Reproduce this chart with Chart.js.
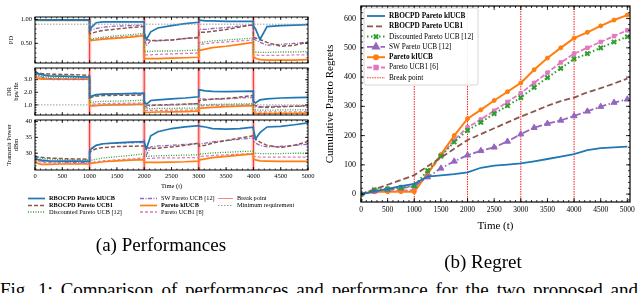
<!DOCTYPE html>
<html>
<head>
<meta charset="utf-8">
<script src="https://cdn.jsdelivr.net/npm/chart.js@4.4.1/dist/chart.umd.min.js"></script>
<style>
  body { margin: 0; background: #fff; width: 640px; height: 293px; overflow: hidden; position: relative; font-family: "Liberation Serif", serif; }
  canvas { position: absolute; }
  .cap { position: absolute; font-size: 19px; line-height: 19px; white-space: nowrap; color: #000; text-align: center; }
  .fig { position: absolute; left: 0; top: 280px; width: 638px; font-size: 19px; line-height: 19px; white-space: nowrap; text-align: justify; text-align-last: justify; color: #000; }
</style>
</head>
<body>
<canvas id="pd" width="320" height="50" style="left:0;top:15px"></canvas>
<canvas id="dr" width="320" height="51" style="left:0;top:66px"></canvas>
<canvas id="tp" width="320" height="75" style="left:0;top:118px"></canvas>
<canvas id="leg" width="320" height="26" style="left:0;top:192px"></canvas>
<canvas id="regret" width="320" height="235" style="left:320px;top:0"></canvas>
<div class="cap" style="left:0;width:322px;top:235px">(a) Performances</div>
<div class="cap" style="left:320px;width:326px;top:252px">(b) Regret</div>
<div class="fig">Fig. 1: Comparison of performances and performance for the two proposed and</div>

<script>
const SERIF = "'Liberation Serif', serif";
Chart.defaults.font.family = SERIF;
Chart.defaults.color = "#000";

// ---- data: left panels (a) ----
const breakPoints = [1000, 2000, 3000, 4000];
const timeSteps = [0, 40, 120, 250, 500, 750, 999,
  1000, 1040, 1120, 1250, 1500, 1750, 1999,
  2000, 2040, 2120, 2250, 2500, 2750, 2999,
  3000, 3040, 3120, 3250, 3500, 3750, 3999,
  4000, 4040, 4120, 4250, 4500, 4750, 4999];
const timeTicks = [0, 500, 1000, 1500, 2000, 2500, 3000, 3500, 4000, 4500, 5000];

const seriesNames = ["RBOCPD Pareto klUCB", "RBOCPD Pareto UCB1", "Discounted Pareto UCB [12]",
  "SW Pareto UCB [12]", "Pareto klUCB", "Pareto UCB1 [6]"];

// PD
const pdBlue   = [0.99,0.99,0.99,0.99,0.99,0.99,0.99, 0.78,0.84,0.93,0.95,0.95,0.95,0.95, 0.72,0.58,0.74,0.82,0.87,0.91,0.94, 0.98,0.98,0.97,0.97,0.96,0.96,0.96, 0.86,0.80,0.58,0.85,0.87,0.88,0.89];
const pdBrown  = [0.99,0.99,0.99,0.99,0.99,0.99,0.99, 0.70,0.71,0.74,0.77,0.80,0.83,0.85, 0.60,0.58,0.56,0.56,0.57,0.60,0.62, 0.73,0.73,0.73,0.75,0.79,0.84,0.89, 0.62,0.61,0.58,0.52,0.44,0.46,0.53];
const pdGreen  = [0.985,0.985,0.985,0.985,0.985,0.985,0.985, 0.58,0.59,0.61,0.63,0.66,0.68,0.71, 0.33,0.33,0.33,0.34,0.34,0.35,0.36, 0.52,0.52,0.53,0.55,0.57,0.59,0.61, 0.32,0.32,0.31,0.31,0.32,0.32,0.33];
const pdPurple = [0.985,0.985,0.985,0.985,0.985,0.985,0.985, 0.76,0.78,0.81,0.84,0.86,0.87,0.88, 0.62,0.45,0.56,0.55,0.57,0.60,0.63, 0.79,0.79,0.79,0.81,0.83,0.86,0.88, 0.60,0.57,0.52,0.46,0.48,0.50,0.52];
const pdOrange = [0.98,0.98,0.98,0.98,0.98,0.98,0.98, 0.56,0.56,0.57,0.59,0.61,0.63,0.66, 0.19,0.18,0.18,0.18,0.19,0.20,0.21, 0.35,0.36,0.38,0.41,0.44,0.48,0.52, 0.22,0.19,0.16,0.15,0.15,0.15,0.16];
const pdPink   = [0.98,0.98,0.98,0.98,0.98,0.98,0.98, 0.57,0.57,0.59,0.61,0.63,0.65,0.68, 0.26,0.26,0.26,0.27,0.28,0.29,0.30, 0.48,0.48,0.49,0.51,0.53,0.55,0.57, 0.26,0.26,0.25,0.25,0.25,0.26,0.26];

// DR (bps/Hz)
const drBlue   = [3.65,3.50,3.40,3.30,3.28,3.25,3.20, 1.60,1.70,1.82,1.86,1.88,1.90,1.92, 1.30,1.05,1.35,1.40,1.48,1.55,1.65, 2.20,2.18,2.12,2.08,2.05,2.07,2.10, 1.30,1.15,1.40,1.48,1.55,1.58,1.60];
const drBrown  = [3.70,3.55,3.50,3.45,3.42,3.40,3.35, 1.55,1.62,1.70,1.74,1.76,1.77,1.78, 1.05,1.00,0.98,1.00,1.03,1.06,1.10, 1.35,1.38,1.40,1.45,1.52,1.62,1.75, 1.00,0.95,0.85,0.80,0.85,0.90,0.95];
const drGreen  = [3.65,3.40,3.25,3.20,3.18,3.18,3.20, 1.20,1.22,1.25,1.28,1.30,1.33,1.38, 0.70,0.68,0.70,0.72,0.73,0.74,0.76, 1.00,1.00,1.02,1.04,1.06,1.08,1.10, 0.60,0.60,0.58,0.58,0.60,0.60,0.62];
const drPurple = [3.65,3.40,3.20,3.10,3.05,3.05,3.05, 1.55,1.70,1.80,1.85,1.88,1.92,1.95, 1.00,0.80,0.95,0.98,1.00,1.05,1.10, 1.50,1.50,1.45,1.45,1.48,1.55,1.60, 0.95,0.85,0.80,0.88,0.90,0.88,0.90];
const drOrange = [3.60,3.10,3.05,3.05,3.05,3.05,3.05, 0.92,0.93,0.95,0.98,1.00,1.03,1.06, 0.40,0.40,0.42,0.44,0.45,0.47,0.50, 0.73,0.74,0.77,0.81,0.86,0.90,0.95, 0.35,0.33,0.32,0.32,0.33,0.34,0.35];
const drPink   = [3.60,3.30,3.10,3.02,3.00,3.00,3.00, 1.05,1.06,1.08,1.10,1.12,1.14,1.16, 0.55,0.55,0.56,0.57,0.58,0.59,0.60, 0.92,0.92,0.94,0.96,0.98,1.00,1.02, 0.45,0.45,0.44,0.44,0.45,0.45,0.46];

// Transmit power (dBm)
const tpBlue   = [29.0,28.0,27.8,27.6,27.5,27.5,27.4, 30.8,31.5,32.5,33.0,33.3,33.5,33.7, 33.5,31.4,35.5,36.8,37.8,38.3,38.7, 38.6,38.5,38.3,37.8,37.6,37.8,38.2, 37.6,34.5,36.5,38.3,38.5,39.0,39.6];
const tpBrown  = [29.2,28.9,28.7,28.5,28.3,28.2,28.1, 30.2,30.8,31.4,31.8,32.1,32.2,32.3, 32.0,31.8,31.5,31.6,32.0,32.5,33.2, 32.2,32.3,32.5,33.2,34.0,34.8,35.5, 35.0,34.5,33.5,32.5,31.8,32.5,33.7];
const tpGreen  = [29.0,28.6,28.4,28.2,28.0,27.9,27.8, 27.6,27.8,28.1,28.5,28.9,29.3,29.8, 29.0,29.0,29.1,29.2,29.3,29.4,29.5, 29.8,29.8,29.9,30.1,30.3,30.5,30.7, 30.0,30.0,29.9,29.9,29.9,30.0,30.0];
const tpPurple = [29.0,27.8,27.5,27.3,27.2,27.1,27.0, 30.5,31.5,32.5,33.0,33.2,33.3,33.4, 34.5,29.5,32.0,32.3,32.5,32.8,33.0, 32.8,33.0,33.2,33.6,34.0,34.4,34.8, 34.0,33.2,32.5,32.0,32.2,32.5,32.8];
const tpOrange = [28.2,26.8,26.5,26.5,26.6,26.6,26.6, 26.8,26.9,27.0,27.3,27.6,27.8,28.0, 27.2,27.1,27.1,27.1,27.2,27.3,27.5, 27.9,28.0,28.2,28.6,29.0,29.4,29.8, 28.2,27.9,27.6,27.5,27.4,27.4,27.4];
const tpPink   = [28.5,27.5,27.2,27.0,26.9,26.8,26.8, 27.0,27.1,27.3,27.6,27.9,28.2,28.5, 28.4,28.4,28.4,28.5,28.5,28.6,28.6, 29.0,29.0,29.1,29.3,29.5,29.7,29.9, 28.9,28.9,28.8,28.8,28.8,28.8,28.8];

const pdTicks = [0.5, 1.0];
const drTicks = [1.0, 2.0, 3.0];
const tpTicks = [30, 35, 40];
const pdMinReq = 0.9;
const drMinReq = 1.0;

// ---- data: regret (b) ----
const regretTimes = [0,250,500,750,1000,1250,1500,1750,2000,2250,2500,2750,3000,3250,3500,3750,4000,4250,4500,4750,5000];
const regBlue   = [0,9,18,27,35,60,64,68,74,90,97,101,105,112,120,128,137,150,157,160,162];
const regBrown  = [0,16,32,48,65,95,125,155,185,205,225,245,265,283,302,318,330,348,362,378,395];
const regGreen  = [0,15,18,22,28,80,130,178,218,245,275,302,330,365,398,430,462,480,500,520,538];
const regPurple = [0,10,15,20,28,58,88,112,133,148,160,180,205,227,241,252,267,283,299,313,324];
const regOrange = [0,8,8,8,8,70,135,200,258,288,320,350,380,425,465,500,533,553,575,595,612];
const regPink   = [0,8,10,12,14,70,130,185,228,255,285,315,345,380,415,450,480,500,520,540,560];
const regretTicks = [0, 100, 200, 300, 400, 500, 600];

// ---- styles ----
const styles = [
  { color: "#1f77b4", width: 1.7, dash: [], bold: true },
  { color: "#8c564b", width: 1.5, dash: [4, 2], bold: true },
  { color: "#2ca02c", width: 1.3, dash: [1, 1.5], bold: false },
  { color: "#9467bd", width: 1.3, dash: [4, 1.5, 1, 1.5], bold: false },
  { color: "#ff7f0e", width: 1.7, dash: [], bold: true },
  { color: "#e377c2", width: 1.3, dash: [3, 2], bold: false },
];
const regretStyles = [
  { color: "#1f77b4", width: 1.8, dash: [], marker: false, r: 0 },
  { color: "#8c564b", width: 1.8, dash: [6, 3], marker: false, r: 0 },
  { color: "#2ca02c", width: 2, dash: [1.5, 2.5], marker: "crossRot", r: 3 },
  { color: "#9467bd", width: 1.8, dash: [7, 2.5, 1.5, 2.5], marker: "triangle", r: 3.5 },
  { color: "#ff7f0e", width: 2, dash: [], marker: "circle", r: 2 },
  { color: "#e377c2", width: 1.8, dash: [5, 2], marker: "rect", r: 2.5 },
];

function range(a, b, step) {
  const out = [];
  for (let v = Math.ceil(a / step) * step; v <= b + 1e-9; v += step) out.push(+v.toFixed(6));
  return out;
}

// keep the plot area where it is: no extra room for edge tick labels
function noPad(s) {
  s.paddingTop = 0; s.paddingBottom = 0; s.paddingLeft = 0; s.paddingRight = 0;
}

// frame + inward ticks on all four sides
const framePlugin = {
  id: "frame",
  afterDatasetsDraw(chart, args, o) {
    const { ctx, chartArea: a } = chart;
    const sx = chart.scales.x, sy = chart.scales.y;
    ctx.save();
    ctx.strokeStyle = "#000";
    ctx.lineWidth = 0.8;
    ctx.beginPath();
    const xt = (vals, len) => vals.forEach((v) => {
      const p = sx.getPixelForValue(v);
      if (p < a.left - 0.5 || p > a.right + 0.5) return;
      ctx.moveTo(p, a.bottom); ctx.lineTo(p, a.bottom - len);
      ctx.moveTo(p, a.top); ctx.lineTo(p, a.top + len);
    });
    const yt = (vals, len) => vals.forEach((v) => {
      const p = sy.getPixelForValue(v);
      if (p < a.top - 0.5 || p > a.bottom + 0.5) return;
      ctx.moveTo(a.left, p); ctx.lineTo(a.left + len, p);
      ctx.moveTo(a.right, p); ctx.lineTo(a.right - len, p);
    });
    xt(o.xMajor, o.major);
    xt(range(sx.min, sx.max, o.xMinor), o.minor);
    yt(o.yMajor, o.major);
    yt(range(sy.min, sy.max, o.yMinor), o.minor);
    ctx.stroke();
    ctx.lineWidth = o.frameWidth;
    ctx.strokeRect(a.left, a.top, a.right - a.left, a.bottom - a.top);
    ctx.restore();
  },
};

const breakPlugin = {
  id: "breaks",
  beforeDatasetsDraw(chart, args, o) {
    const { ctx, chartArea: a } = chart;
    const sx = chart.scales.x;
    ctx.save();
    breakPoints.forEach((b) => {
      const p = sx.getPixelForValue(b);
      if (o.band) {
        ctx.fillStyle = "rgba(255,80,80,0.3)";
        ctx.fillRect(p - 1.8, a.top, 3.6, a.bottom - a.top);
      }
      ctx.strokeStyle = "red";
      ctx.lineWidth = o.width;
      ctx.setLineDash(o.dash);
      ctx.beginPath();
      ctx.moveTo(p, a.top); ctx.lineTo(p, a.bottom);
      ctx.stroke();
    });
    ctx.restore();
  },
};

function makePanel(id, values, cfg) {
  const datasets = values.map((vals, i) => ({
    data: timeSteps.map((t, k) => ({ x: t, y: vals[k] })),
    borderColor: styles[i].color,
    borderWidth: styles[i].width,
    borderDash: styles[i].dash,
    pointRadius: 0,
    fill: false,
    tension: 0,
  }));
  if (cfg.minReq != null) {
    datasets.unshift({
      data: [{ x: 0, y: cfg.minReq }, { x: 5000, y: cfg.minReq }],
      borderColor: "#9a9a9a", borderWidth: 1, borderDash: [1.5, 1.5], pointRadius: 0,
    });
  }
  const fontSmall = { family: SERIF, size: 6.5 };
  return new Chart(document.getElementById(id), {
    type: "line",
    data: { datasets },
    options: {
      responsive: false,
      animation: false,
      events: [],
      layout: { padding: { top: 2, bottom: cfg.showX ? 0 : 2, right: 12, left: 0 } },
      plugins: {
        legend: { display: false },
        tooltip: { enabled: false },
        frame: { xMajor: timeTicks, xMinor: 100, yMajor: cfg.ticks, yMinor: cfg.minorStep, major: 3, minor: 1.5, frameWidth: 1 },
        breaks: { band: true, width: 0.8, dash: [] },
      },
      scales: {
        x: {
          type: "linear", min: 0, max: 5000, display: cfg.showX,
          grid: { display: false, drawTicks: false },
          border: { display: false },
          afterBuildTicks: (s) => { s.ticks = timeTicks.map((v) => ({ value: v })); },
          afterFit: (s) => { s.height = cfg.showX ? 23 : 0; noPad(s); },
          ticks: { font: fontSmall, color: "#000", padding: 2, autoSkip: false, maxRotation: 0, callback: (v) => String(v) },
          title: { display: true, text: "Time (t)", font: fontSmall, color: "#000", padding: { top: 0, bottom: 3 } },
        },
        y: {
          min: cfg.min, max: cfg.max,
          grid: { display: false, drawTicks: false },
          border: { display: false },
          afterBuildTicks: (s) => { s.ticks = cfg.ticks.map((v) => ({ value: v })); },
          afterFit: (s) => { s.width = 35; noPad(s); },
          ticks: { font: fontSmall, color: "#000", padding: 3, autoSkip: false, callback: (v) => v.toFixed(cfg.dec) },
          title: { display: true, text: cfg.title, font: { family: SERIF, size: 6.5, lineHeight: 1.1 }, color: "#000", padding: { top: cfg.titlePad, bottom: 0 } },
        },
      },
    },
    plugins: [breakPlugin, framePlugin],
  });
}

makePanel("pd", [pdBlue, pdBrown, pdGreen, pdPurple, pdOrange, pdPink],
  { min: 0.09, max: 1.05, ticks: pdTicks, minorStep: 0.1, dec: 2, title: "PD", titlePad: 8, minReq: pdMinReq, showX: false });
makePanel("dr", [drBlue, drBrown, drGreen, drPurple, drOrange, drPink],
  { min: 0.2, max: 3.93, ticks: drTicks, minorStep: 0.2, dec: 1, title: ["DR", "bps/Hz"], titlePad: 6, minReq: drMinReq, showX: false });
makePanel("tp", [tpBlue, tpBrown, tpGreen, tpPurple, tpOrange, tpPink],
  { min: 24.7, max: 40.5, ticks: tpTicks, minorStep: 1, dec: 0, title: ["Transmit Power", "dBm"], titlePad: 6, minReq: null, showX: true });

// ---- legend below panel (a) ----
(function drawLeftLegend() {
  const ctx = document.getElementById("leg").getContext("2d");
  const cols = [[0, 1, 2], [3, 4, 5], ["break", "minreq"]];
  const colX = [28, 140, 218];
  const rowY = [6.5, 13.5, 20];
  ctx.textBaseline = "middle";
  cols.forEach((col, ci) => {
    col.forEach((item, ri) => {
      const x = colX[ci], y = rowY[ri];
      ctx.save();
      let label, bold = false, len = ci === 2 ? 15 : 17;
      if (item === "break") {
        ctx.strokeStyle = "rgba(255,60,60,0.8)"; ctx.lineWidth = 0.8; ctx.setLineDash([]);
        label = "Break point";
      } else if (item === "minreq") {
        ctx.strokeStyle = "#9a9a9a"; ctx.lineWidth = 1; ctx.setLineDash([1.5, 1.5]);
        label = "Minimum requirement";
      } else {
        const s = styles[item];
        ctx.strokeStyle = s.color; ctx.lineWidth = s.width; ctx.setLineDash(s.dash);
        label = seriesNames[item]; bold = s.bold;
      }
      ctx.beginPath(); ctx.moveTo(x, y); ctx.lineTo(x + len, y); ctx.stroke();
      ctx.restore();
      ctx.fillStyle = "#000";
      ctx.font = (bold ? "bold " : "") + "6.3px " + SERIF;
      ctx.fillText(label, x + len + 4, y);
    });
  });
})();

// ---- regret chart (b) ----
const regretLegendPlugin = {
  id: "regretLegend",
  afterDraw(chart) {
    const { ctx, chartArea: a } = chart;
    const bx = a.left + 3, by = a.top + 2, bw = 114, bh = 77;
    ctx.save();
    ctx.fillStyle = "rgba(255,255,255,0.9)";
    ctx.strokeStyle = "#cccccc";
    ctx.lineWidth = 0.8;
    ctx.beginPath();
    ctx.roundRect(bx, by, bw, bh, 2);
    ctx.fill(); ctx.stroke();
    const items = [0, 1, 2, 3, 4, 5, "break"];
    ctx.textBaseline = "middle";
    items.forEach((it, i) => {
      const y = by + 8 + i * 10.3;
      const x0 = bx + 3, x1 = bx + 21;
      ctx.save();
      let label, bold = false;
      if (it === "break") {
        ctx.strokeStyle = "red"; ctx.lineWidth = 0.8; ctx.setLineDash([1.5, 1]);
        label = "Break point";
      } else {
        const s = regretStyles[it];
        ctx.strokeStyle = s.color; ctx.lineWidth = s.width; ctx.setLineDash(s.dash);
        label = seriesNames[it]; bold = it === 0 || it === 1 || it === 4;
      }
      ctx.beginPath(); ctx.moveTo(x0, y); ctx.lineTo(x1, y); ctx.stroke();
      if (it !== "break" && regretStyles[it].marker) {
        const s = regretStyles[it];
        ctx.setLineDash([]);
        ctx.fillStyle = s.color; ctx.strokeStyle = s.color;
        Chart.helpers.drawPoint(ctx, { pointStyle: s.marker, radius: s.r, borderWidth: s.marker === "crossRot" ? 2 : 1, rotation: 0 }, (x0 + x1) / 2, y);
      }
      ctx.restore();
      ctx.fillStyle = "#000";
      ctx.font = (bold ? "bold " : "") + "7.3px " + SERIF;
      ctx.fillText(label, bx + 25, y);
    });
    ctx.restore();
  },
};

const regretSeries = [regBlue, regBrown, regGreen, regPurple, regOrange, regPink];
new Chart(document.getElementById("regret"), {
  type: "line",
  data: {
    datasets: regretSeries.map((vals, i) => {
      const s = regretStyles[i];
      return {
        data: regretTimes.map((t, k) => ({ x: t, y: vals[k] })),
        borderColor: s.color,
        backgroundColor: s.color,
        borderWidth: s.width,
        borderDash: s.dash,
        pointStyle: s.marker || "circle",
        pointRadius: s.r,
        pointBorderWidth: s.marker === "crossRot" ? 2 : 1,
        pointBorderColor: s.color,
        pointBackgroundColor: s.color,
        fill: false,
        tension: 0,
      };
    }),
  },
  options: {
    responsive: false,
    animation: false,
    events: [],
    layout: { padding: { top: 2, right: 10, bottom: 0, left: 0 } },
    plugins: {
      legend: { display: false },
      tooltip: { enabled: false },
      frame: { xMajor: timeTicks, xMinor: 100, yMajor: regretTicks, yMinor: 20, major: 4, minor: 2, frameWidth: 1.2 },
      breaks: { band: false, width: 0.9, dash: [1.5, 1] },
    },
    scales: {
      x: {
        type: "linear", min: 0, max: 5050,
        grid: { display: false, drawTicks: false },
        border: { display: false },
        afterBuildTicks: (s) => { s.ticks = timeTicks.map((v) => ({ value: v })); },
        afterFit: (s) => { s.height = 33; noPad(s); },
        ticks: { font: { family: SERIF, size: 7.5 }, color: "#000", padding: 4, autoSkip: false, maxRotation: 0, callback: (v) => String(v) },
        title: { display: true, text: "Time (t)", font: { family: SERIF, size: 11 }, color: "#000", padding: { top: 0, bottom: 2.5 } },
      },
      y: {
        min: -27, max: 643,
        grid: { display: false, drawTicks: false },
        border: { display: false },
        afterBuildTicks: (s) => { s.ticks = regretTicks.map((v) => ({ value: v })); },
        afterFit: (s) => { s.width = 41; noPad(s); },
        ticks: { font: { family: SERIF, size: 8 }, color: "#000", padding: 5, autoSkip: false },
        title: { display: true, text: "Cumulative Pareto Regrets", font: { family: SERIF, size: 11 }, color: "#000", padding: { top: 4, bottom: 0 } },
      },
    },
  },
  plugins: [breakPlugin, framePlugin, regretLegendPlugin],
});
</script>
</body>
</html>
